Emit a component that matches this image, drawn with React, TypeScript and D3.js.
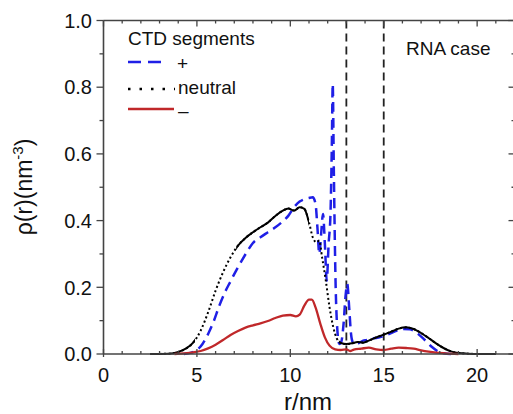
import React from "react";
import * as d3 from "d3";

const W = 513;
const H = 414;

// r (nm) values and densities for each CTD segment type
const plusR = [4.3, 4.7, 5.0, 5.3, 5.6, 5.9, 6.2, 6.5, 6.8, 7.1, 7.4, 7.7, 8.0, 8.4, 8.8, 9.2, 9.6, 9.9, 10.2, 10.5, 10.8, 11.0, 11.2, 11.35, 11.45, 11.55, 11.65, 11.75, 11.85, 11.95, 12.05, 12.15, 12.22, 12.27, 12.33, 12.42, 12.52, 12.62, 12.72, 12.85, 12.95, 13.05, 13.15, 13.25, 13.35, 13.5, 13.7, 13.9, 14.1, 14.3, 14.6, 14.9, 15.2, 15.6, 16.0, 16.4, 16.8, 17.2, 17.6, 17.9, 18.2, 18.6];
const plusRho = [0, 0.004, 0.012, 0.03, 0.06, 0.098, 0.145, 0.185, 0.218, 0.25, 0.28, 0.308, 0.333, 0.35, 0.365, 0.38, 0.398, 0.415, 0.44, 0.457, 0.465, 0.468, 0.47, 0.45, 0.38, 0.30, 0.36, 0.42, 0.33, 0.22, 0.33, 0.42, 0.62, 0.81, 0.55, 0.22, 0.07, 0.03, 0.035, 0.09, 0.17, 0.21, 0.14, 0.06, 0.035, 0.03, 0.034, 0.04, 0.042, 0.047, 0.048, 0.052, 0.058, 0.068, 0.075, 0.074, 0.062, 0.042, 0.02, 0.008, 0.002, 0];

const neutralR = [2.5, 3.5, 4.0, 4.4, 4.8, 5.2, 5.6, 6.0, 6.4, 6.8, 7.2, 7.6, 8.0, 8.4, 8.8, 9.2, 9.6, 9.9, 10.2, 10.5, 10.75, 11.0, 11.2, 11.4, 11.55, 11.7, 11.9, 12.1, 12.3, 12.5, 12.7, 13.0, 13.3, 13.6, 13.9, 14.2, 14.6, 15.0, 15.4, 15.8, 16.2, 16.6, 17.0, 17.4, 17.8, 18.2, 18.6, 19.0, 19.5, 20.0, 21.0];
const neutralRho = [0, 0.001, 0.006, 0.016, 0.034, 0.07, 0.125, 0.19, 0.245, 0.29, 0.325, 0.348, 0.365, 0.38, 0.394, 0.414, 0.43, 0.436, 0.43, 0.44, 0.435, 0.395, 0.35, 0.335, 0.34, 0.29, 0.22, 0.14, 0.08, 0.045, 0.033, 0.03, 0.032, 0.036, 0.034, 0.04, 0.05, 0.058, 0.067, 0.076, 0.08, 0.075, 0.063, 0.048, 0.032, 0.018, 0.008, 0.003, 0.001, 0, 0];
// r ranges where the neutral curve appears solid in the original
const neutralSolidRanges = [[0, 4.9], [7.1, 11.0], [12.6, 22]];

const minusR = [3.8, 4.3, 4.8, 5.2, 5.6, 6.0, 6.4, 6.8, 7.2, 7.6, 8.0, 8.4, 8.8, 9.2, 9.6, 10.0, 10.3, 10.5, 10.75, 11.0, 11.15, 11.35, 11.6, 11.85, 12.1, 12.4, 12.7, 13.0, 13.2, 13.4, 13.8, 14.2, 14.6, 15.0, 15.4, 15.8, 16.2, 16.6, 17.0, 17.4, 17.8, 18.3, 19.0];
const minusRho = [0, 0.002, 0.005, 0.009, 0.017, 0.028, 0.042, 0.057, 0.069, 0.079, 0.086, 0.092, 0.099, 0.108, 0.115, 0.117, 0.113, 0.118, 0.145, 0.163, 0.163, 0.14, 0.092, 0.05, 0.025, 0.014, 0.012, 0.014, 0.009, 0.013, 0.016, 0.019, 0.014, 0.012, 0.016, 0.019, 0.018, 0.016, 0.011, 0.007, 0.004, 0.002, 0];

const regionBounds = [13, 15];
const xMajor = [0, 5, 10, 15, 20];
const xMinor = d3.range(0, 23, 1);
const yMajor = [0, 0.2, 0.4, 0.6, 0.8, 1.0];
const yMinor = d3.range(0, 10.5, 1).map((v) => v / 10);
const legendLabels = ["+", "neutral", "–"];

const FONT = "'Liberation Sans', Arial, Helvetica, sans-serif";

export default function App() {
  const x = d3.scaleLinear().domain([0, 22]).range([103.5, 514.5]);
  const y = d3.scaleLinear().domain([0, 1]).range([354, 20.5]);
  const line = d3
    .line<[number, number]>()
    .x((d) => x(d[0]))
    .y((d) => y(d[1]))
    .curve(d3.curveMonotoneX);

  const plus = plusR.map((r, i) => [r, plusRho[i]] as [number, number]);
  const neutral = neutralR.map((r, i) => [r, neutralRho[i]] as [number, number]);
  const minus = minusR.map((r, i) => [r, minusRho[i]] as [number, number]);

  const x0 = x(0);
  const x1 = x(22);
  const y0 = y(0);
  const y1 = y(1);
  const axisColor = "#444";

  return (
    <svg
      width={W}
      height={H}
      style={{ position: "fixed", left: 0, top: 0, background: "#fff" }}
      fontFamily={FONT}
    >
      <defs>
        <clipPath id="neutralSolid">
          {neutralSolidRanges.map(([a, b], i) => (
            <rect key={i} x={x(a)} y={0} width={x(b) - x(a)} height={H} />
          ))}
        </clipPath>
        <clipPath id="plotArea">
          <rect x={x0} y={y1 - 2} width={x1 - x0} height={y0 - y1 + 4} />
        </clipPath>
      </defs>

      {/* region boundaries */}
      {regionBounds.map((b) => (
        <line
          key={b}
          x1={x(b)}
          x2={x(b)}
          y1={y1}
          y2={y0}
          stroke="#222"
          strokeWidth={1.8}
          strokeDasharray="8,5"
        />
      ))}

      <g clipPath="url(#plotArea)" fill="none">
        <path d={line(plus) || ""} stroke="#1f1fe6" strokeWidth={2.5} strokeDasharray="10,6" />
        <path d={line(neutral) || ""} stroke="#000" strokeWidth={2} strokeDasharray="2,2.6" />
        <path d={line(neutral) || ""} stroke="#000" strokeWidth={2} clipPath="url(#neutralSolid)" />
        <path d={line(minus) || ""} stroke="#c0282a" strokeWidth={2.3} />
      </g>

      {/* axes lines */}
      <line x1={x0} x2={x1} y1={y0} y2={y0} stroke={axisColor} strokeWidth={1.6} />
      <line x1={x0} x2={x1} y1={y1} y2={y1} stroke={axisColor} strokeWidth={1.6} />
      <line x1={x0} x2={x0} y1={y1} y2={y0} stroke={axisColor} strokeWidth={1.6} />
      <line x1={x1} x2={x1} y1={y1} y2={y0} stroke={axisColor} strokeWidth={1.6} />

      {/* x ticks */}
      {xMinor.map((v) => {
        const major = xMajor.includes(v);
        return (
          <g key={"xt" + v}>
            <line x1={x(v)} x2={x(v)} y1={y0 - (major ? 5 : 3)} y2={y0 + (major ? 3 : 0)} stroke={axisColor} strokeWidth={1.3} />
            <line x1={x(v)} x2={x(v)} y1={y1} y2={y1 + (major ? 6 : 3)} stroke={axisColor} strokeWidth={1.3} />
          </g>
        );
      })}
      {xMajor.map((v) => (
        <text key={"xl" + v} x={x(v)} y={382} textAnchor="middle" fontSize={20} fill="#111">
          {v}
        </text>
      ))}

      {/* y ticks */}
      {yMinor.map((v) => {
        const major = yMajor.some((m) => Math.abs(m - v) < 1e-9);
        return (
          <g key={"yt" + v}>
            <line x1={x0 - (major ? 7 : 4)} x2={x0} y1={y(v)} y2={y(v)} stroke={axisColor} strokeWidth={1.3} />
            <line x1={x1 - (major ? 6 : 3)} x2={x1} y1={y(v)} y2={y(v)} stroke={axisColor} strokeWidth={1.3} />
          </g>
        );
      })}
      {yMajor.map((v) => (
        <text key={"yl" + v} x={92} y={y(v)} dy="0.36em" textAnchor="end" fontSize={20} fill="#111">
          {v.toFixed(1)}
        </text>
      ))}

      {/* axis titles */}
      <text x={308} y={410} textAnchor="middle" fontSize={24} fill="#111">
        r/nm
      </text>
      <text transform="translate(32,187) rotate(-90)" textAnchor="middle" fontSize={23} fill="#111">
        ρ(r)(nm<tspan dy={-9} fontSize={15}>-3</tspan>
        <tspan dy={9}>)</tspan>
      </text>

      {/* legend */}
      <text x={128} y={45} fontSize={19} fill="#111">CTD segments</text>
      <line x1={128} x2={163} y1={62} y2={62} stroke="#1f1fe6" strokeWidth={2.5} strokeDasharray="13,7" />
      <text x={177} y={70} fontSize={19} fill="#111">{legendLabels[0]}</text>
      <line x1={128} x2={175} y1={89} y2={89} stroke="#000" strokeWidth={2.5} strokeDasharray="2.5,9" />
      <text x={178} y={94} fontSize={19} fill="#111">{legendLabels[1]}</text>
      <line x1={128} x2={174} y1={109} y2={109} stroke="#c0282a" strokeWidth={2.5} />
      <text x={178} y={117} fontSize={19} fill="#111">{legendLabels[2]}</text>

      <text x={406} y={55} fontSize={19} fill="#111">RNA case</text>
    </svg>
  );
}
